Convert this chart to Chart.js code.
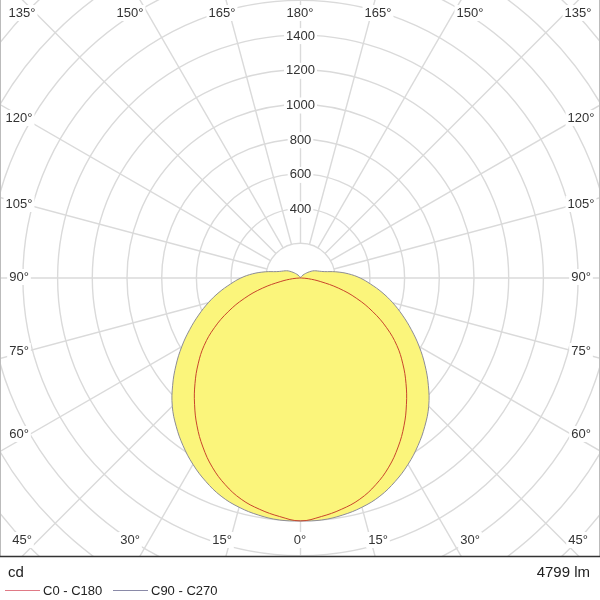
<!DOCTYPE html>
<html>
<head>
<meta charset="utf-8">
<script src="https://cdn.jsdelivr.net/npm/chart.js@4.4.1/dist/chart.umd.min.js"></script>
<style>
  html, body { margin: 0; padding: 0; background: #fff; }
  #wrap { width: 600px; height: 600px; }
</style>
</head>
<body>
<div id="wrap"><canvas id="grafico" width="600" height="600"></canvas></div>
<script>
// Ângulos gama (graus a partir do nadir) e intensidades em cd
const angulos = [0, 5, 10, 15, 20, 25, 30, 35, 40, 45, 50, 55, 60, 65, 70, 75, 80, 85, 90,
  95, 100, 105, 110, 115, 120, 125, 130, 135, 140, 145, 150, 155, 160, 165, 170, 175, 180];
const c0c180 = [1400, 1380, 1354, 1320, 1268, 1203, 1125, 1040, 950, 860, 770, 678, 573, 460, 345, 228, 115, 45, 5,
  0, 0, 0, 0, 0, 0, 0, 0, 0, 0, 0, 0, 0, 0, 0, 0, 0, 0];
const c90c270 = [1400, 1400, 1388, 1368, 1338, 1293, 1240, 1180, 1115, 1045, 962, 876, 790, 705, 625, 550, 477, 406, 344,
  277, 206, 142, 115, 98, 82, 62, 45, 32, 22, 15, 10, 6, 4, 2, 1, 0, 0];

// Anéis e rótulos da grade
const aneis = [200, 400, 600, 800, 1000, 1200, 1400, 1600, 1800, 2000, 2200, 2400];
const rotulosAneis = [400, 600, 800, 1000, 1200, 1400];
const rotulosTopo = ['135°', '150°', '165°', '180°', '165°', '150°', '135°'];
const rotulosBase = ['45°', '30°', '15°', '0°', '15°', '30°', '45°'];
const rotulosLado = ['120°', '105°', '90°', '75°', '60°'];
const fluxo = '4799 lm';
const unidade = 'cd';
const series = ['C0 - C180', 'C90 - C270'];

// converte curva polar (lado esquerdo = C180/C270, direito = C0/C90)
function pontosPolares(valores) {
  const pts = [];
  for (let i = angulos.length - 1; i >= 0; i--) {
    const a = angulos[i] * Math.PI / 180;
    pts.push({ x: -valores[i] * Math.sin(a), y: -valores[i] * Math.cos(a) });
  }
  for (let i = 1; i < angulos.length; i++) {
    const a = angulos[i] * Math.PI / 180;
    pts.push({ x: valores[i] * Math.sin(a), y: -valores[i] * Math.cos(a) });
  }
  return pts;
}

const k = 34.7 / 200; // px por cd
const fonte = '"Liberation Sans", Arial, sans-serif';

function rotulo(ctx, txt, x, y) {
  const w = ctx.measureText(txt).width;
  ctx.fillStyle = '#fff';
  ctx.fillRect(x - w / 2 - 2, y - 8, w + 4, 16);
  ctx.fillStyle = '#333';
  ctx.fillText(txt, x, y);
}

const gradePolar = {
  id: 'gradePolar',
  beforeDatasetsDraw(chart) {
    const { ctx, chartArea: ca, scales } = chart;
    const cx = scales.x.getPixelForValue(0);
    const cy = scales.y.getPixelForValue(0);
    const px = v => Math.abs(scales.x.getPixelForValue(v) - cx);
    ctx.save();
    ctx.beginPath();
    ctx.rect(ca.left, ca.top, ca.right - ca.left, ca.bottom - ca.top);
    ctx.clip();
    ctx.strokeStyle = '#dadada';
    ctx.lineWidth = 1.4;
    aneis.forEach(r => {
      ctx.beginPath();
      ctx.arc(cx, cy, px(r), 0, Math.PI * 2);
      ctx.stroke();
    });
    for (let g = 0; g < 360; g += 15) {
      const a = g * Math.PI / 180;
      const r0 = px(aneis[0]), r1 = px(3000);
      ctx.beginPath();
      ctx.moveTo(cx + r0 * Math.sin(a), cy + r0 * Math.cos(a));
      ctx.lineTo(cx + r1 * Math.sin(a), cy + r1 * Math.cos(a));
      ctx.stroke();
    }
    ctx.restore();

    ctx.save();
    ctx.font = '13px ' + fonte;
    ctx.textAlign = 'center';
    ctx.textBaseline = 'middle';
    rotulosAneis.forEach(v => rotulo(ctx, String(v), cx, cy - px(v) + 1));
    const xsTopo = [22, 130, 222, 300, 378, 470, 578];
    rotulosTopo.forEach((t, i) => rotulo(ctx, t, xsTopo[i], 13));
    rotulosBase.forEach((t, i) => rotulo(ctx, t, xsTopo[i], 540));
    const ysLado = [118, 204, 277, 351, 434];
    rotulosLado.forEach((t, i) => {
      rotulo(ctx, t, 19, ysLado[i]);
      rotulo(ctx, t, 581, ysLado[i]);
    });
    ctx.restore();
  },
  afterDraw(chart) {
    const { ctx, chartArea: ca } = chart;
    ctx.save();
    ctx.strokeStyle = '#bbb';
    ctx.lineWidth = 1;
    ctx.beginPath();
    ctx.moveTo(0.5, 0); ctx.lineTo(0.5, ca.bottom);
    ctx.moveTo(599.5, 0); ctx.lineTo(599.5, ca.bottom);
    ctx.stroke();
    ctx.strokeStyle = '#333';
    ctx.lineWidth = 1.5;
    ctx.beginPath();
    ctx.moveTo(0, ca.bottom + 0.5); ctx.lineTo(600, ca.bottom + 0.5);
    ctx.stroke();

    // legenda
    ctx.fillStyle = '#222';
    ctx.textBaseline = 'middle';
    ctx.font = '15px ' + fonte;
    ctx.textAlign = 'left';
    ctx.fillText(unidade, 8, 573);
    ctx.textAlign = 'right';
    ctx.fillText(fluxo, 590, 573);
    ctx.font = '13px ' + fonte;
    ctx.textAlign = 'left';
    const cores = ['#e07a86', '#8a8aa8'];
    const xs = [5, 113];
    series.forEach((s, i) => {
      ctx.strokeStyle = cores[i];
      ctx.lineWidth = 1;
      ctx.beginPath();
      ctx.moveTo(xs[i], 590.5); ctx.lineTo(xs[i] + 35, 590.5);
      ctx.stroke();
      ctx.fillStyle = '#222';
      ctx.fillText(s, xs[i] + 38, 591);
    });
    ctx.restore();
  }
};

const ctx = document.getElementById('grafico').getContext('2d');
new Chart(ctx, {
  type: 'scatter',
  data: {
    datasets: [
      {
        label: series[0],
        data: pontosPolares(c0c180),
        showLine: true,
        borderColor: '#c9452c',
        borderWidth: 1,
        pointRadius: 0,
        tension: 0.4,
        fill: false
      },
      {
        label: series[1],
        data: pontosPolares(c90c270),
        showLine: true,
        borderColor: '#8c8c96',
        backgroundColor: '#fbf57b',
        borderWidth: 1,
        pointRadius: 0,
        tension: 0.4,
        fill: 'shape'
      }
    ]
  },
  options: {
    responsive: false,
    animation: false,
    layout: { padding: { left: 0, right: 0, top: 0, bottom: 44 } },
    plugins: { legend: { display: false }, tooltip: { enabled: false } },
    scales: {
      x: { type: 'linear', display: false, min: -300.5 / k, max: 299.5 / k },
      y: { type: 'linear', display: false, min: -278 / k, max: 278 / k }
    }
  },
  plugins: [gradePolar]
});
</script>
</body>
</html>
